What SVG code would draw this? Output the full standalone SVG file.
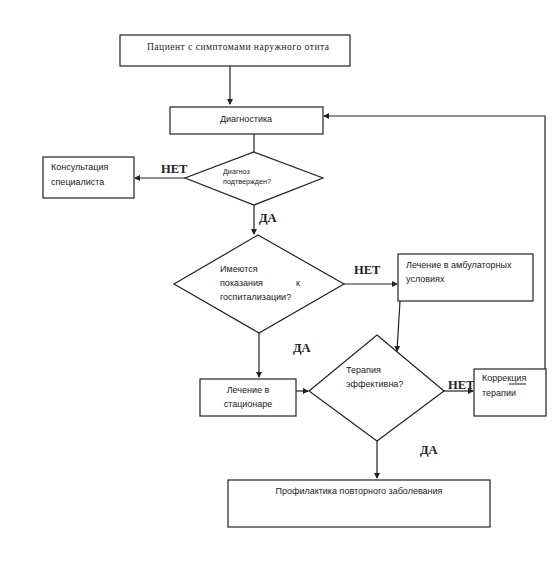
<svg xmlns="http://www.w3.org/2000/svg" width="559" height="561" viewBox="0 0 559 561">
<defs>
<style>
.n{fill:#fff;stroke:#222;stroke-width:1.2}
.c{fill:none;stroke:#222;stroke-width:1.2}
.t{font-family:"Liberation Sans",Arial,sans-serif;font-size:9px;fill:#222}
.d{font-size:7.2px}
.s{font-family:"Liberation Serif","Times New Roman",serif;font-size:9.5px;fill:#222}
.b{font-family:"Liberation Serif","Times New Roman",serif;font-size:12.5px;font-weight:bold;fill:#222}
</style>
<marker id="ah" markerWidth="6" markerHeight="6" refX="5" refY="3" orient="auto" markerUnits="userSpaceOnUse">
<path d="M0,0 L6,3 L0,6 z" fill="#222"/>
</marker>
</defs>
<rect width="559" height="561" fill="#fff"/>
<g id="connectors">
<path class="c" d="M230,66 V104" marker-end="url(#ah)"/>
<path class="c" d="M254,134 V152"/>
<path class="c" d="M185,178 H135" marker-end="url(#ah)"/>
<path class="c" d="M254,205 V234" marker-end="url(#ah)"/>
<path class="c" d="M344,284 H397" marker-end="url(#ah)"/>
<path class="c" d="M400,301 L397,351" marker-end="url(#ah)"/>
<path class="c" d="M259,333 V377" marker-end="url(#ah)"/>
<path class="c" d="M296,391 H308" marker-end="url(#ah)"/>
<path class="c" d="M444,391 H473" marker-end="url(#ah)"/>
<path class="c" d="M545,369 V116 H324" marker-end="url(#ah)"/>
<path class="c" d="M377,441 V478" marker-end="url(#ah)"/>
<text class="b" x="161" y="173">НЕТ</text>
<text class="b" x="259" y="222">ДА</text>
<text class="b" x="354" y="274">НЕТ</text>
<text class="b" x="293" y="352">ДА</text>
<text class="b" x="448" y="389">НЕТ</text>
<text class="b" x="420" y="454">ДА</text>
</g>
<g id="start">
<rect class="n" x="120" y="35" width="230" height="31"/>
<text class="s" x="147" y="50" textLength="182">Пациент  с симптомами  наружного  отита</text>
</g>
<g id="diagnostics">
<rect class="n" x="170" y="107" width="153" height="27"/>
<text class="t" x="246" y="122" text-anchor="middle">Диагностика</text>
</g>
<g id="diagnosis-confirmed">
<polygon class="n" points="254,152 323,178 254,205 185,178"/>
<text class="t d" x="223" y="174">Диагноз</text>
<text class="t d" x="223" y="184">подтвержден?</text>
</g>
<g id="consultation">
<rect class="n" x="43" y="157" width="91" height="41"/>
<text class="t" x="51" y="170">Консультация</text>
<text class="t" x="51" y="185">специалиста</text>
</g>
<g id="hospitalization">
<polygon class="n" points="258,235 344,284 259,333 174,284"/>
<text class="t" x="220" y="272">Имеются</text>
<text class="t" x="220" y="286">показания</text>
<text class="t" x="296" y="286">к</text>
<text class="t" x="220" y="300">госпитализации?</text>
</g>
<g id="outpatient">
<rect class="n" x="398" y="254" width="135" height="47"/>
<text class="t" x="406" y="268">Лечение в амбулаторных</text>
<text class="t" x="406" y="282">условиях</text>
</g>
<g id="inpatient">
<rect class="n" x="200" y="379" width="96" height="37"/>
<text class="t" x="248" y="393" text-anchor="middle">Лечение в</text>
<text class="t" x="248" y="407" text-anchor="middle">стационаре</text>
</g>
<g id="therapy-effective">
<polygon class="n" points="377,335 444,391 377,441 309,391"/>
<text class="t" x="346" y="373">Терапия</text>
<text class="t" x="346" y="387">эффективна?</text>
</g>
<g id="correction">
<rect class="n" x="474" y="369" width="72" height="47"/>
<text class="t" x="482" y="381">Коррекция</text>
<line x1="509" y1="384" x2="526" y2="384" stroke="#222" stroke-width="1"/>
<text class="t" x="482" y="396">терапии</text>
</g>
<g id="prevention">
<rect class="n" x="228" y="480" width="262" height="47"/>
<text class="t" x="359" y="494" text-anchor="middle">Профилактика  повторного  заболевания</text>
</g>
</svg>
